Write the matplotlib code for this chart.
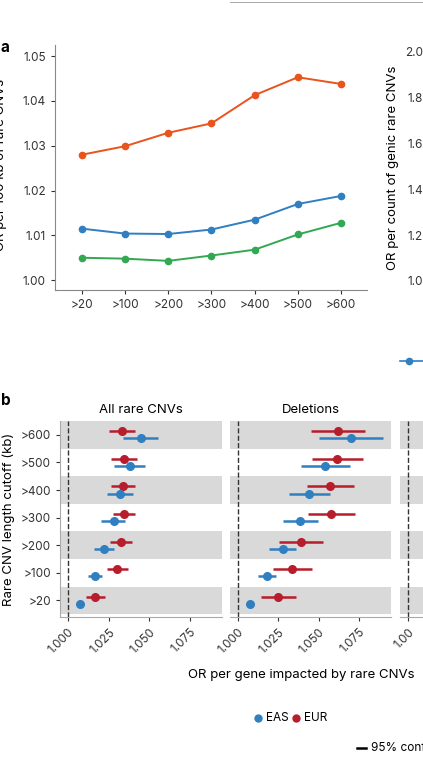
import numpy as np
import matplotlib.pyplot as plt
from matplotlib.lines import Line2D

plt.rcParams['font.family'] = ['Inter', 'DejaVu Sans']

# panel a
cutoffs = [">20", ">100", ">200", ">300", ">400", ">500", ">600"]
orange = [1.0280, 1.0299, 1.0329, 1.0350, 1.0413, 1.0453, 1.0438]
blue = [1.0115, 1.0104, 1.0103, 1.0113, 1.0135, 1.0170, 1.0188]
green = [1.0050, 1.0048, 1.0043, 1.0055, 1.0068, 1.0102, 1.0128]

# panel b, rows from >20 (bottom) to >600 (top)
all_eur = [1.0166, 1.0301, 1.0326, 1.0342, 1.0338, 1.0346, 1.0332]
all_eur_lo = [1.0109, 1.0240, 1.0258, 1.0275, 1.0266, 1.0266, 1.0250]
all_eur_hi = [1.0225, 1.0365, 1.0391, 1.0412, 1.0414, 1.0424, 1.0414]
all_eas = [1.0070, 1.0164, 1.0219, 1.0281, 1.0316, 1.0379, 1.0445]
all_eas_lo = [1.0068, 1.0121, 1.0156, 1.0205, 1.0236, 1.0285, 1.0336]
all_eas_hi = [1.0072, 1.0209, 1.0281, 1.0352, 1.0398, 1.0473, 1.0551]
del_eur = [1.0250, 1.0332, 1.0387, 1.0576, 1.0570, 1.0611, 1.0617]
del_eur_lo = [1.0143, 1.0213, 1.0254, 1.0434, 1.0424, 1.0457, 1.0451]
del_eur_hi = [1.0359, 1.0457, 1.0525, 1.0723, 1.0719, 1.0770, 1.0783]
del_eas = [1.0072, 1.0176, 1.0275, 1.0383, 1.0441, 1.0539, 1.0697]
del_eas_lo = [1.0070, 1.0123, 1.0189, 1.0277, 1.0316, 1.0387, 1.0502]
del_eas_hi = [1.0074, 1.0234, 1.0361, 1.0496, 1.0566, 1.0693, 1.0898]

W, H = 423, 766
fig = plt.figure(figsize=(W / 100, H / 100), dpi=100)

def box(l, t, r, b):
    return [l / W, 1 - b / H, (r - l) / W, (b - t) / H]

c_or, c_bl, c_gr = "#e8541c", "#2f7fc1", "#33a853"
ax = fig.add_axes(box(55, 45, 367, 290))
x = np.arange(len(cutoffs))
for vals, c in [(orange, c_or), (blue, c_bl), (green, c_gr)]:
    ax.plot(x, vals, "-o", color=c, ms=4.5, lw=1.4)
ax.set_xlim(-0.62, 6.6)
ax.set_ylim(0.9978, 1.0525)
ax.set_yticks([1.00, 1.01, 1.02, 1.03, 1.04, 1.05])
ax.set_yticklabels(["1.00", "1.01", "1.02", "1.03", "1.04", "1.05"])
ax.set_xticks(x)
ax.set_xticklabels(cutoffs)
for s in ["top", "right"]:
    ax.spines[s].set_visible(False)
for s in ["left", "bottom"]:
    ax.spines[s].set_color("#888888")
ax.tick_params(labelsize=8.5, colors="#333333", length=3)
ax.set_ylabel("OR per 100 kb of rare CNVs", fontsize=9.5)
ax.yaxis.set_label_coords(-0.155, 0.51)

ax2 = fig.add_axes(box(432, 45, 700, 290))
ax2.set_ylim(0.96, 2.03)
ax2.set_yticks([1.0, 1.2, 1.4, 1.6, 1.8, 2.0])
ax2.set_yticklabels(["1.0", "1.2", "1.4", "1.6", "1.8", "2.0"])
ax2.tick_params(labelsize=8.5, colors="#333333", length=3)
ax2.set_ylabel("OR per count of genic rare CNVs", fontsize=9.5)
for s in ["top", "right"]:
    ax2.spines[s].set_visible(False)
fig.add_artist(Line2D([400 / W, 423 / W], [1 - 361 / H] * 2, color=c_bl, lw=1.2))
fig.add_artist(Line2D([409 / W], [1 - 361 / H], color=c_bl, marker="o", ms=4.5))
fig.add_artist(Line2D([230 / W, 1], [1 - 2 / H] * 2, color="#999999", lw=0.6))

# panel b
c_eur, c_eas = "#b81d2c", "#2f7fc1"
rows = np.arange(len(cutoffs))
panels = [(60, 222, "All rare CNVs", all_eur, all_eur_lo, all_eur_hi, all_eas, all_eas_lo, all_eas_hi),
          (230, 391, "Deletions", del_eur, del_eur_lo, del_eur_hi, del_eas, del_eas_lo, del_eas_hi),
          (400, 561, "", None, None, None, None, None, None)]
for i, (l, r, title, eu, eul, euh, ea, eal, eah) in enumerate(panels):
    bx = fig.add_axes(box(l, 421, r, 617))
    for k in range(0, len(rows), 2):
        bx.axhspan(k - 0.5, k + 0.5, color="#d9d9d9", lw=0, zorder=0)
    bx.axvline(1.0, color="#333333", ls="--", lw=1, zorder=1)
    if eu is not None:
        bx.hlines(rows + 0.13, eul, euh, color=c_eur, lw=1.8, zorder=2)
        bx.plot(eu, rows + 0.13, "o", color=c_eur, ms=5.5, zorder=3)
        bx.hlines(rows - 0.13, eal, eah, color=c_eas, lw=1.8, zorder=2)
        bx.plot(ea, rows - 0.13, "o", color=c_eas, ms=5.5, zorder=3)
    bx.set_xlim(0.995, 1.0946)
    bx.set_ylim(-0.6, 6.5)
    bx.set_xticks([1.0, 1.025, 1.05, 1.075])
    bx.set_xticklabels(["1.000", "1.025", "1.050", "1.075"] if i < 2 else ["1.00", "", "", ""],
                       rotation=45, ha="right", rotation_mode="anchor")
    bx.set_yticks(rows)
    bx.set_yticklabels(cutoffs if i == 0 else [])
    bx.tick_params(labelsize=8.5, colors="#333333", length=3)
    bx.tick_params(axis="y", length=3 if i == 0 else 0)
    for s in ["top", "right"]:
        bx.spines[s].set_visible(False)
    for s in ["left", "bottom"]:
        bx.spines[s].set_color("#aaaaaa")
    bx.spines["left"].set_visible(i == 0)
    bx.set_title(title, fontsize=9.5, pad=6)
    if i == 0:
        bx.set_ylabel("Rare CNV length cutoff (kb)", fontsize=9.5)

fig.text(0.5 / W, 1 - 47 / H, "a", fontsize=11, fontweight="bold", va="center")
fig.text(0.5 / W, 1 - 400 / H, "b", fontsize=11, fontweight="bold", va="center")
fig.text(188 / W, 1 - 675 / H, "OR per gene impacted by rare CNVs", fontsize=9.5, va="center")
fig.add_artist(Line2D([258 / W], [1 - 718 / H], color=c_eas, marker="o", ms=5))
fig.text(266 / W, 1 - 718 / H, "EAS", fontsize=8.5, va="center")
fig.add_artist(Line2D([296 / W], [1 - 718 / H], color=c_eur, marker="o", ms=5))
fig.text(304 / W, 1 - 718 / H, "EUR", fontsize=8.5, va="center")
fig.add_artist(Line2D([357 / W, 366 / W], [1 - 748 / H] * 2, color="black", lw=1.8))
fig.text(371 / W, 1 - 748 / H, "95% confidence interval", fontsize=8.5, va="center")

fig.savefig("out.png", dpi=100)
